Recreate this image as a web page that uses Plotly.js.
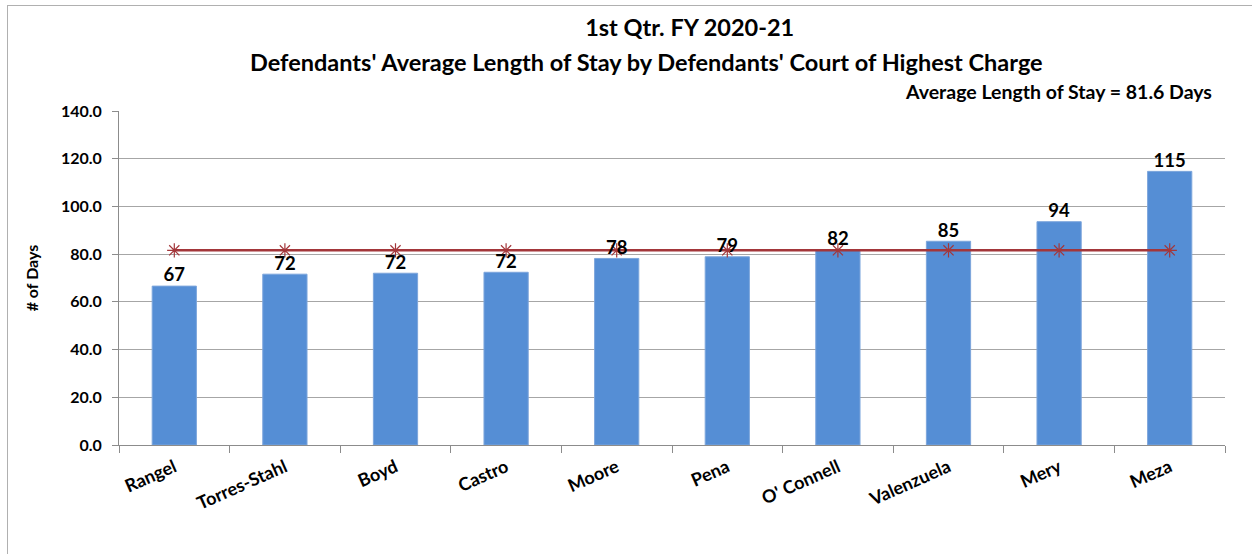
<!DOCTYPE html>
<html>
<head>
<meta charset="utf-8">
<script src="https://cdn.plot.ly/plotly-3.0.1.min.js"></script>
<style>
html,body{margin:0;padding:0;background:#fff;}
#frame{position:absolute;left:7px;top:5px;width:1260px;height:560px;border-left:1px solid #b0b0b0;border-top:1px solid #b0b0b0;pointer-events:none;}
#chart{width:1252px;height:554px;}
</style>
</head>
<body>
<div id="chart"></div>
<div id="frame"></div>
<script>
var judges = ["Rangel","Torres-Stahl","Boyd","Castro","Moore","Pena","O' Connell","Valenzuela","Mery","Meza"];
var avgStay = [66.6, 71.6, 72.0, 72.4, 78.2, 78.9, 81.9, 85.4, 93.6, 114.7];
var overallAvg = 81.6;
var avgLine = judges.map(function(){ return overallAvg; });
var barLabels = avgStay.map(function(v){ return Math.round(v).toString(); });
var yTicks = [0,20,40,60,80,100,120,140];

var fontFam = "Lato, 'Open Sans', sans-serif";

var traces = [
  {
    type: "bar",
    x: judges,
    y: avgStay,
    marker: {color: "#558ED5", line: {color: "#7DA6DC", width: 1}},
    hoverinfo: "x+y",
    showlegend: false
  },
  {
    type: "scatter",
    mode: "lines+markers",
    x: judges,
    y: avgLine,
    line: {color: "#A3363A", width: 2.5},
    marker: {symbol: "asterisk-open", size: 12, color: "#A3363A", line: {color: "#A3363A", width: 1.2}},
    showlegend: false,
    hoverinfo: "y"
  },
  {
    type: "scatter",
    mode: "text",
    x: judges,
    y: avgStay,
    text: barLabels.map(function(s){ return "<b>" + s + "</b>"; }),
    textposition: "top center",
    textfont: {family: fontFam, size: 18.5, color: "#000"},
    cliponaxis: false,
    showlegend: false,
    hoverinfo: "skip"
  }
];

var layout = {
  width: 1252,
  height: 554,
  margin: {l: 119, r: 27, t: 111, b: 109},
  paper_bgcolor: "#fff",
  plot_bgcolor: "#fff",
  bargap: 0.6,
  font: {family: fontFam, color: "#000"},
  title: {
    text: "<b>1st Qtr. FY 2020-21</b>",
    font: {family: fontFam, size: 23.5, color: "#000"},
    x: 0.516, xref: "paper", xanchor: "center",
    y: 1 - 28/554, yref: "container", yanchor: "middle"
  },
  annotations: [
    {
      text: "<b>Defendants' Average Length of Stay by Defendants' Court of Highest Charge</b>",
      xref: "paper", yref: "paper",
      x: (646-119)/1106, y: (445-62)/334,
      xanchor: "center", yanchor: "middle",
      showarrow: false,
      font: {family: fontFam, size: 23.5, color: "#000"}
    },
    {
      text: "<b>Average Length of Stay = 81.6 Days</b>",
      xref: "paper", yref: "paper",
      x: (1214-119)/1106, y: (445-92)/334,
      xanchor: "right", yanchor: "middle",
      showarrow: false,
      font: {family: fontFam, size: 19.5, color: "#000"}
    }
  ],
  xaxis: {
    type: "category",
    showgrid: false,
    showline: true,
    linecolor: "#8c8c8c",
    linewidth: 1,
    ticks: "outside",
    tickson: "boundaries",
    ticklen: 7,
    tickcolor: "#8c8c8c",
    tickangle: -24,
    ticklabelstandoff: 4,
    tickfont: {family: fontFam, size: 18, color: "#000", weight: "bold"},
    zeroline: false,
    range: [-0.5, 9.5]
  },
  yaxis: {
    range: [0, 140],
    tickvals: yTicks,
    tickformat: ".1f",
    showgrid: true,
    gridcolor: "#a6a6a6",
    gridwidth: 1,
    showline: true,
    linecolor: "#8c8c8c",
    ticks: "outside",
    ticklen: 6,
    tickcolor: "#8c8c8c",
    ticklabelstandoff: 7,
    tickfont: {family: fontFam, size: 16, color: "#000", weight: "bold"},
    zeroline: false,
    title: {text: "<b># of Days</b>", font: {family: fontFam, size: 16, color: "#000"}, standoff: 18}
  }
};

Plotly.newPlot("chart", traces, layout, {displayModeBar: false, staticPlot: true}).then(function(){
  document.querySelectorAll(".xtick text, .ytick text").forEach(function(t){ t.style.fontWeight = "bold"; });
});
</script>
</body>
</html>
